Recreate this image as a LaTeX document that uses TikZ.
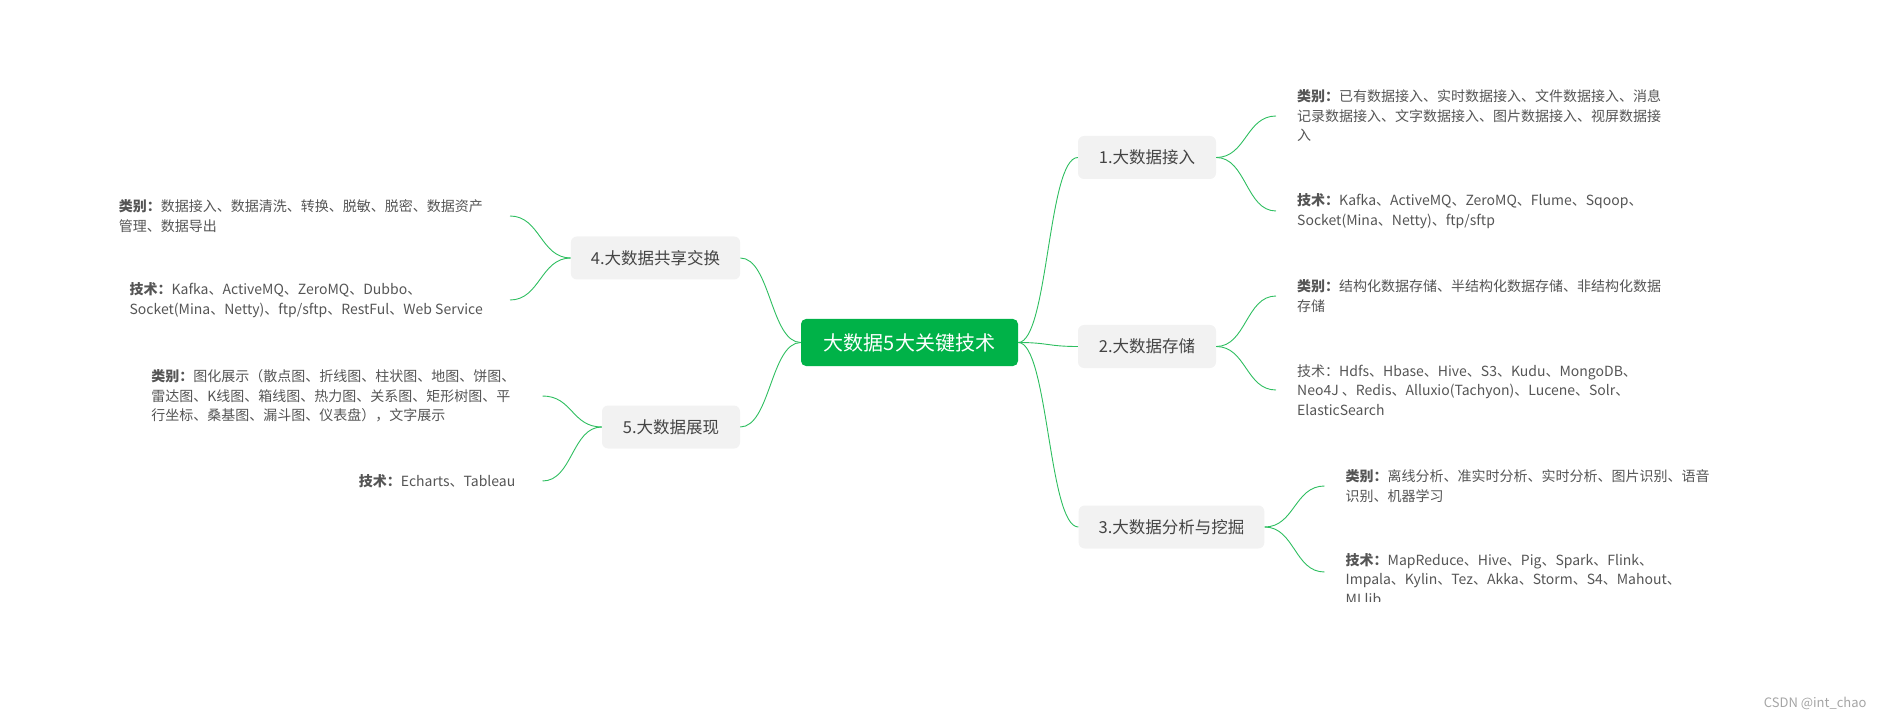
\documentclass[tikz,border=0pt]{standalone}
\usepackage{fontspec}
\setmainfont{Noto Sans CJK SC}
\definecolor{mapgreen}{RGB}{0,178,72}
\definecolor{linkgreen}{RGB}{46,190,96}
\definecolor{topicgray}{RGB}{242,242,242}
\definecolor{textgray}{RGB}{68,68,68}
\definecolor{leafgray}{RGB}{85,85,85}
\definecolor{markgray}{RGB}{165,165,165}
\begin{document}
\begin{tikzpicture}[x=1pt, y=-1pt,
    root/.style={fill=mapgreen, text=white, rounded corners=5pt, minimum width=217pt, minimum height=47pt, font=\fontsize{20}{24}\selectfont},
    topic/.style={fill=topicgray, text=textgray, rounded corners=6pt, minimum width=138pt, minimum height=43pt, inner xsep=20pt, font=\fontsize{16.5}{20}\selectfont},
    leaf/.style={text=leafgray, align=left, inner xsep=21pt, font=\fontsize{14}{19.5}\selectfont},
    leafl/.style={leaf, inner xsep=27pt, anchor=east},
    link/.style={linkgreen, line width=.9pt}]
    \useasboundingbox (0,0) rectangle (1885,719);
    \node[root] (c) at (909.5,342.5) {大数据5大关键技术};
    \node[topic] (n1) at (1147,157.5) {1.大数据接入};
    \node[topic] (n2) at (1147,346.5) {2.大数据存储};
    \node[topic] (n3) at (1171.5,527) {3.大数据分析与挖掘};
    \node[topic] (n4) at (655.5,258) {4.大数据共享交换};
    \node[topic] (n5) at (671,427) {5.大数据展现};
    \node[leaf, anchor=west] (l11) at (1276,116) {\textbf{类别：}已有数据接入、实时数据接入、文件数据接入、消息\\记录数据接入、文字数据接入、图片数据接入、视屏数据接\\入};
    \node[leaf, anchor=west] (l12) at (1276,211) {\textbf{技术：}Kafka、ActiveMQ、ZeroMQ、Flume、Sqoop、\\Socket(Mina、Netty)、ftp/sftp};
    \node[leaf, anchor=west] (l21) at (1276,296) {\textbf{类别：}结构化数据存储、半结构化数据存储、非结构化数据\\存储};
    \node[leaf, anchor=west] (l22) at (1276,390) {技术：Hdfs、Hbase、Hive、S3、Kudu、MongoDB、\\Neo4J 、Redis、Alluxio(Tachyon)、Lucene、Solr、\\ElasticSearch};
    \node[leaf, anchor=west] (l31) at (1324.5,486) {\textbf{类别：}离线分析、准实时分析、实时分析、图片识别、语音\\识别、机器学习};
    \begin{scope}
        \clip (1300,540) rectangle (1800,601);
        \node[leaf, anchor=west] (l32) at (1324.5,579) {\textbf{技术：}MapReduce、Hive、Pig、Spark、Flink、\\Impala、Kylin、Tez、Akka、Storm、S4、Mahout、\\MLlib};
    \end{scope}
    \node[leafl] (l41) at (510,216) {\textbf{类别：}数据接入、数据清洗、转换、脱敏、脱密、数据资产\\管理、数据导出};
    \node[leafl] (l42) at (510,300) {\textbf{技术：}Kafka、ActiveMQ、ZeroMQ、Dubbo、\\Socket(Mina、Netty)、ftp/sftp、RestFul、Web Service};
    \node[leafl] (l51) at (542.5,396) {\textbf{类别：}图化展示（散点图、折线图、柱状图、地图、饼图、\\雷达图、K线图、箱线图、热力图、关系图、矩形树图、平\\行坐标、桑基图、漏斗图、仪表盘），文字展示};
    \node[leafl] (l52) at (542.5,481) {\textbf{技术：}Echarts、Tableau};
    \draw[link] (c.east) .. controls +(30,0) and +(-30,0) .. (n1.west);
    \draw[link] (c.east) .. controls +(30,0) and +(-30,0) .. (n2.west);
    \draw[link] (c.east) .. controls +(30,0) and +(-30,0) .. (n3.west);
    \draw[link] (c.west) .. controls +(-30,0) and +(30,0) .. (n4.east);
    \draw[link] (c.west) .. controls +(-30,0) and +(30,0) .. (n5.east);
    \draw[link] (n1.east) .. controls +(30,0) and +(-30,0) .. (l11.west);
    \draw[link] (n1.east) .. controls +(30,0) and +(-30,0) .. (l12.west);
    \draw[link] (n2.east) .. controls +(30,0) and +(-30,0) .. (l21.west);
    \draw[link] (n2.east) .. controls +(30,0) and +(-30,0) .. (l22.west);
    \draw[link] (n3.east) .. controls +(30,0) and +(-30,0) .. (l31.west);
    \draw[link] (n3.east) .. controls +(30,0) and +(-30,0) .. ([yshift=7pt]l32.west);
    \draw[link] (n4.west) .. controls +(-30,0) and +(30,0) .. (l41.east);
    \draw[link] (n4.west) .. controls +(-30,0) and +(30,0) .. (l42.east);
    \draw[link] (n5.west) .. controls +(-30,0) and +(30,0) .. (l51.east);
    \draw[link] (n5.west) .. controls +(-30,0) and +(30,0) .. (l52.east);
    \node[text=markgray, anchor=east, font=\fontsize{13}{15}\selectfont] (mark) at (1870,703) {CSDN @int\_chao};
\end{tikzpicture}
\end{document}
